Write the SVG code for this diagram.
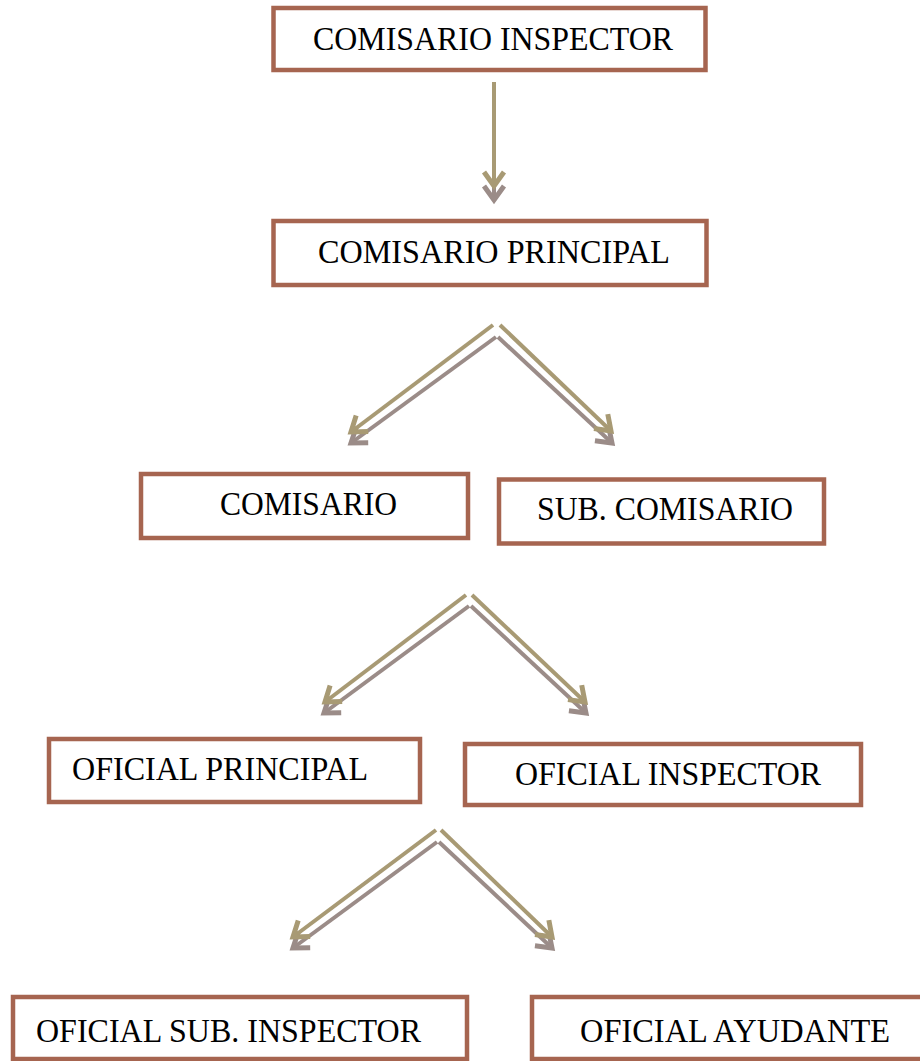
<svg xmlns="http://www.w3.org/2000/svg" width="920" height="1061" viewBox="0 0 920 1061">
  <style>
    .box { fill: #ffffff; stroke: #a66550; stroke-width: 4.5; }
    .lbl { font-family: "Liberation Serif", "Times New Roman", serif; font-size: 34px; fill: #000000; }
    .main { fill: none; stroke: #a89a74; stroke-width: 4; stroke-linecap: butt; }
    .shade { fill: none; stroke: #9b8c88; stroke-width: 4; stroke-linecap: butt; }
  </style>
  <defs>
    <marker id="headMain" markerUnits="userSpaceOnUse" markerWidth="40" markerHeight="40" refX="0" refY="0" orient="auto" viewBox="-20 -20 40 40" overflow="visible">
      <path d="M -14 -10 L 0 0 L -14 10" fill="none" stroke="#a89a74" stroke-width="5" stroke-linejoin="miter"/>
    </marker>
    <marker id="headShade" markerUnits="userSpaceOnUse" markerWidth="40" markerHeight="40" refX="0" refY="0" orient="auto" viewBox="-20 -20 40 40" overflow="visible">
      <path d="M -14 -10 L 0 0 L -14 10" fill="none" stroke="#9b8c88" stroke-width="5" stroke-linejoin="miter"/>
    </marker>
  </defs>

  <rect width="920" height="1061" fill="#ffffff"/>

  <!-- connectors: each one is a grey shadow copy under a khaki arrow -->
  <g id="connectors">
    <g id="c-inspector-principal">
      <line class="shade" x1="494" y1="97" x2="494" y2="200" marker-end="url(#headShade)"/>
      <line class="main" x1="494" y1="82" x2="494" y2="186" marker-end="url(#headMain)"/>
    </g>
    <g id="c-principal-comisario">
      <line class="shade" x1="496" y1="337" x2="351" y2="443" marker-end="url(#headShade)"/>
      <line class="main" x1="493" y1="325" x2="351" y2="432" marker-end="url(#headMain)"/>
    </g>
    <g id="c-principal-subcomisario">
      <line class="shade" x1="498" y1="337" x2="612" y2="443" marker-end="url(#headShade)"/>
      <line class="main" x1="500" y1="325" x2="611" y2="431" marker-end="url(#headMain)"/>
    </g>
    <g id="c-mid-oficialprincipal">
      <line class="shade" x1="469" y1="606" x2="324" y2="713" marker-end="url(#headShade)"/>
      <line class="main" x1="466" y1="595" x2="325" y2="702" marker-end="url(#headMain)"/>
    </g>
    <g id="c-mid-oficialinspector">
      <line class="shade" x1="471" y1="606" x2="586" y2="713" marker-end="url(#headShade)"/>
      <line class="main" x1="472" y1="595" x2="585" y2="702" marker-end="url(#headMain)"/>
    </g>
    <g id="c-low-subinspector">
      <line class="shade" x1="437" y1="842" x2="293" y2="948" marker-end="url(#headShade)"/>
      <line class="main" x1="436" y1="830" x2="293" y2="937" marker-end="url(#headMain)"/>
    </g>
    <g id="c-low-ayudante">
      <line class="shade" x1="439" y1="842" x2="552" y2="948" marker-end="url(#headShade)"/>
      <line class="main" x1="441" y1="830" x2="552" y2="937" marker-end="url(#headMain)"/>
    </g>
  </g>

  <g id="n-comisario-inspector">
    <rect class="box" x="273.5" y="8" width="432" height="62"/>
    <text class="lbl" x="313" y="50" textLength="360" lengthAdjust="spacingAndGlyphs">COMISARIO INSPECTOR</text>
  </g>
  <g id="n-comisario-principal">
    <rect class="box" x="273.5" y="221" width="433" height="64"/>
    <text class="lbl" x="318" y="263" textLength="352" lengthAdjust="spacingAndGlyphs">COMISARIO PRINCIPAL</text>
  </g>
  <g id="n-comisario">
    <rect class="box" x="141" y="474" width="327" height="64"/>
    <text class="lbl" x="220" y="515" textLength="177" lengthAdjust="spacingAndGlyphs">COMISARIO</text>
  </g>
  <g id="n-sub-comisario">
    <rect class="box" x="499" y="479.5" width="325" height="64"/>
    <text class="lbl" x="537" y="520" textLength="256" lengthAdjust="spacingAndGlyphs">SUB. COMISARIO</text>
  </g>
  <g id="n-oficial-principal">
    <rect class="box" x="49" y="739" width="371" height="63"/>
    <text class="lbl" x="72" y="780" textLength="296" lengthAdjust="spacingAndGlyphs">OFICIAL PRINCIPAL</text>
  </g>
  <g id="n-oficial-inspector">
    <rect class="box" x="465" y="744" width="396" height="61"/>
    <text class="lbl" x="515" y="785" textLength="306" lengthAdjust="spacingAndGlyphs">OFICIAL INSPECTOR</text>
  </g>
  <g id="n-oficial-sub-inspector">
    <rect class="box" x="13" y="997" width="454" height="62"/>
    <text class="lbl" x="36" y="1042" textLength="385" lengthAdjust="spacingAndGlyphs">OFICIAL SUB. INSPECTOR</text>
  </g>
  <g id="n-oficial-ayudante">
    <rect class="box" x="532" y="997" width="395" height="62"/>
    <text class="lbl" x="580" y="1042" textLength="310" lengthAdjust="spacingAndGlyphs">OFICIAL AYUDANTE</text>
  </g>
</svg>
